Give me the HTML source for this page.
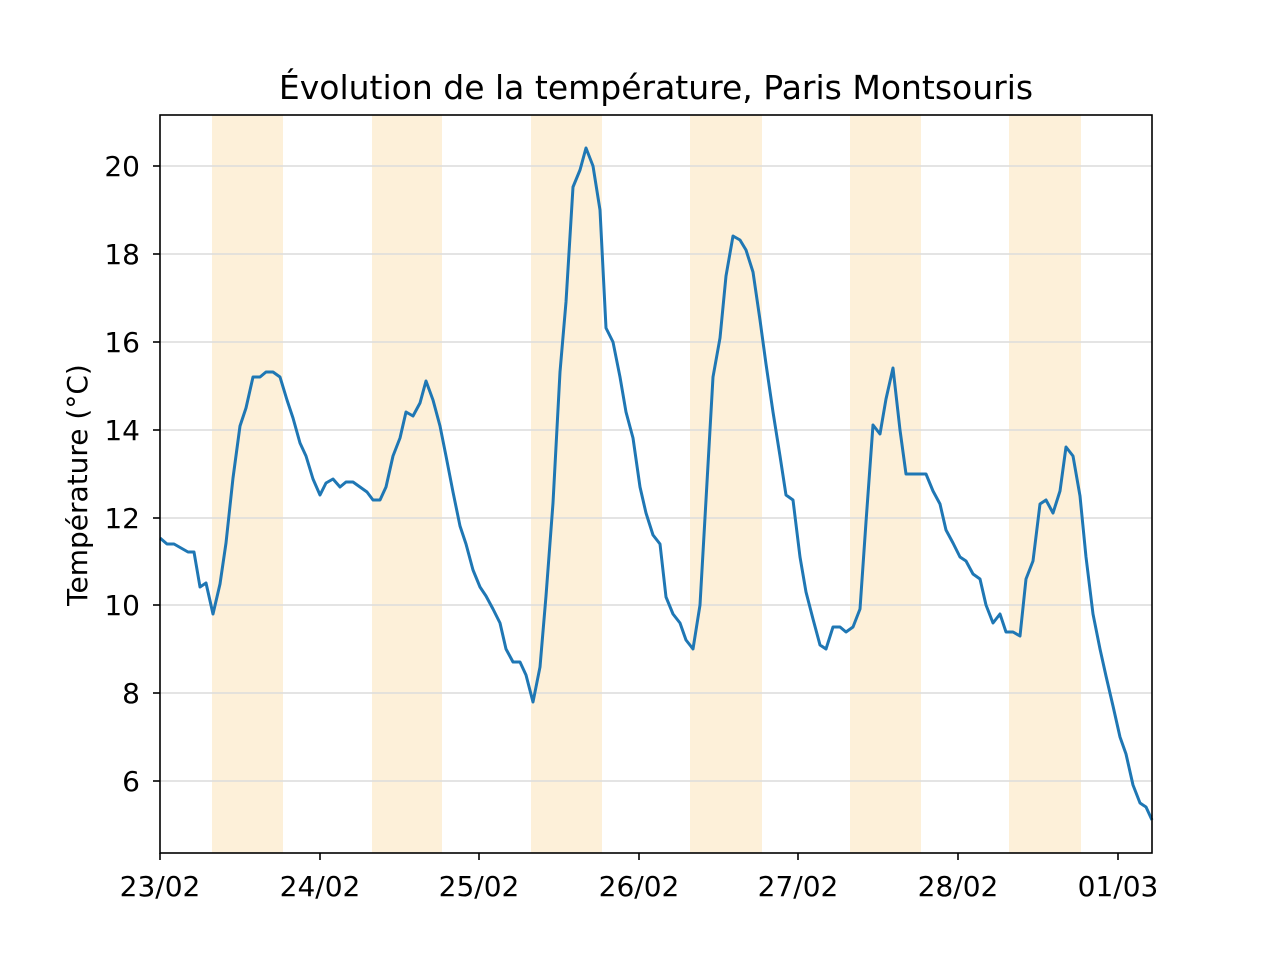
<!DOCTYPE html>
<html><head><meta charset="utf-8"><style>body{margin:0;background:#fff}</style></head>
<body>
<svg width="1280" height="960" xmlns="http://www.w3.org/2000/svg" font-family="DejaVu Sans, Liberation Sans, sans-serif">
<rect width="1280" height="960" fill="#fff"/>
<g fill="#fdf0d9">
<rect x="212" y="115" width="71" height="738"/>
<rect x="372" y="115" width="70" height="738"/>
<rect x="531" y="115" width="71" height="738"/>
<rect x="690" y="115" width="72" height="738"/>
<rect x="850" y="115" width="71" height="738"/>
<rect x="1009" y="115" width="72" height="738"/>
</g>
<g stroke="#dcdcdc" stroke-width="1.5">
<line x1="160" x2="1152" y1="781" y2="781"/><line x1="160" x2="1152" y1="693" y2="693"/>
<line x1="160" x2="1152" y1="605" y2="605"/><line x1="160" x2="1152" y1="518" y2="518"/>
<line x1="160" x2="1152" y1="430" y2="430"/><line x1="160" x2="1152" y1="342" y2="342"/>
<line x1="160" x2="1152" y1="254" y2="254"/><line x1="160" x2="1152" y1="166" y2="166"/>
</g>
<polyline fill="none" stroke="#1f77b4" stroke-width="3" stroke-linejoin="round" points="160,538 167,544 174,544 181,548 188,552 194,552 200,587 206,583 213,614 220,584 226,543 233,478 240,426 246,408 253,377 260,377 266,372 273,372 280,377 287,400 293,418 300,443 306,456 313,479 320,495 326,483 333,479 340,487 346,482 353,482 360,487 367,492 373,500 380,500 386,487 393,456 400,438 406,412 413,416 420,403 426,381 433,400 440,426 446,456 453,492 460,526 466,544 473,570 480,587 486,596 493,609 500,623 506,649 513,662 520,662 526,675 533,702 540,667 546,596 553,503 560,372 566,302 573,187 580,170 586,148 593,166 600,210 606,328 613,342 620,377 626,412 633,438 640,487 646,513 653,535 660,544 666,597 673,614 680,623 686,640 693,649 700,605 706,500 713,377 720,338 726,276 733,236 740,240 746,250 753,272 760,320 766,364 773,412 780,456 786,495 793,500 800,557 806,592 813,619 820,645 826,649 833,627 840,627 846,632 853,627 860,609 866,522 873,425 880,434 886,399 893,368 900,430 906,474 913,474 920,474 926,474 933,491 940,504 946,530 953,543 960,557 966,561 973,574 980,579 986,605 993,623 1000,614 1006,632 1013,632 1020,636 1026,579 1033,561 1040,504 1046,500 1053,513 1060,491 1066,447 1073,456 1080,496 1086,557 1093,614 1100,649 1106,676 1113,706 1120,737 1126,754 1133,785 1140,803 1146,807 1152,820"/>
<rect x="160" y="115" width="992" height="738" fill="none" stroke="#000" stroke-width="1.6"/>
<g stroke="#000" stroke-width="1.6">
<line x1="160" x2="153" y1="781" y2="781"/><line x1="160" x2="153" y1="693" y2="693"/>
<line x1="160" x2="153" y1="605" y2="605"/><line x1="160" x2="153" y1="518" y2="518"/>
<line x1="160" x2="153" y1="430" y2="430"/><line x1="160" x2="153" y1="342" y2="342"/>
<line x1="160" x2="153" y1="254" y2="254"/><line x1="160" x2="153" y1="166" y2="166"/>
<line x1="160" x2="160" y1="853" y2="860"/><line x1="320" x2="320" y1="853" y2="860"/>
<line x1="479" x2="479" y1="853" y2="860"/><line x1="639" x2="639" y1="853" y2="860"/>
<line x1="798" x2="798" y1="853" y2="860"/><line x1="958" x2="958" y1="853" y2="860"/>
<line x1="1118" x2="1118" y1="853" y2="860"/>
</g>
<g font-size="28" text-anchor="end" fill="#000">
<text x="140" y="791">6</text><text x="140" y="703">8</text><text x="140" y="615">10</text>
<text x="140" y="528">12</text><text x="140" y="440">14</text><text x="140" y="352">16</text>
<text x="140" y="264">18</text><text x="140" y="176">20</text>
</g>
<g font-size="28" text-anchor="middle" fill="#000">
<text x="160" y="896">23/02</text><text x="320" y="896">24/02</text><text x="479" y="896">25/02</text>
<text x="639" y="896">26/02</text><text x="798" y="896">27/02</text><text x="958" y="896">28/02</text>
<text x="1118" y="896">01/03</text>
</g>
<text x="656" y="99" font-size="33" text-anchor="middle">Évolution de la température, Paris Montsouris</text>
<text transform="translate(87,485) rotate(-90)" font-size="28" text-anchor="middle">Température (°C)</text>
</svg>
</body></html>
